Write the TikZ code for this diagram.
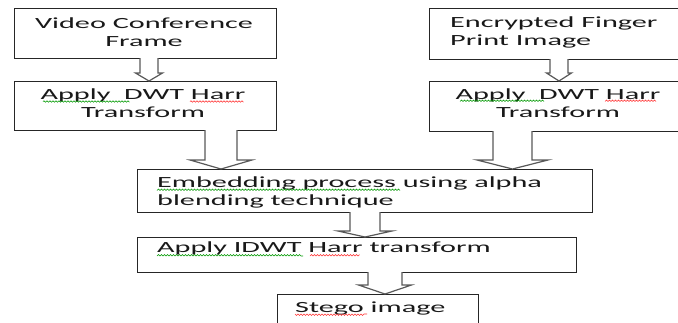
\documentclass[tikz,border=0pt]{standalone}
\usepackage{fontspec}
\setmainfont{Carlito}
\usetikzlibrary{calc,decorations.pathmorphing}
\newcommand{\wide}[1]{\scalebox{1.95}[1]{#1}}
\begin{document}
\begin{tikzpicture}[x=1pt, y=-1pt, line join=miter,
    box/.style 2 args={draw=black!85, line width=0.9pt, fill=white, minimum width=#1, minimum height=#2, inner sep=0pt, outer sep=0pt},
    txt/.style={inner sep=0pt, font=\fontsize{15.5}{18}\selectfont, text=black!90},
    blockarr/.style={draw=black!65, line width=1.2pt, fill=white},
    spell/.style={#1, line width=0.6pt, decorate, decoration={snake, amplitude=0.7pt, segment length=3pt}}]
    \useasboundingbox (0,0) rectangle (678,322);
    \clip (0,0) rectangle (678,322);
    \node[box={262}{50}] (vcf) at (145,33) {};
    \node[box={262}{49}] (dwtA) at (145,105.5) {};
    \node[box={258}{51}] (efp) at (558,33.5) {};
    \node[box={258}{50}] (dwtB) at (558,106) {};
    \node[box={455}{43}] (embed) at (364.5,190.5) {};
    \node[box={439}{35}] (idwt) at (356.5,254.5) {};
    \node[box={201}{44}] (stego) at (377.5,316) {};
    \foreach \s/\t/\x/\w/\h/\l in {vcf/dwtA/149/9/13.5/8, efp/dwtB/559/9/12.5/8, dwtA/embed/221/16/31/9, dwtB/embed/512.5/19.5/35.5/9, embed/idwt/365/15/27/6, idwt/stego/385/17/26.5/9}{
        \path (\x,0) coordinate (m);
        \draw[blockarr] ($(m |- \s.south)+(-\w,0)$) -- ($(m |- \t.north)+(-\w,-\l)$) -- ($(m |- \t.north)+(-\h,-\l)$) -- (m |- \t.north)
            -- ($(m |- \t.north)+(\h,-\l)$) -- ($(m |- \t.north)+(\w,-\l)$) -- ($(m |- \s.south)+(\w,0)$);
    }
    \node[txt, align=center, anchor=base] (vcf-t) at (144,46) {\wide{Video Conference}\\\wide{Frame}};
    \node[txt, align=center, anchor=base] (dwtA-t) at (143,117) {\wide{Apply\ \ DWT Harr}\\\wide{Transform}};
    \node[txt, align=left, anchor=base west] (efp-t) at (450,45) {\wide{Encrypted Finger}\\\wide{Print Image}};
    \node[txt, align=center, anchor=base] (dwtB-t) at (558,117) {\wide{Apply\ \ DWT Harr}\\\wide{Transform}};
    \node[txt, align=left, anchor=base west] (embed-t) at (157,205) {\wide{Embedding\ process\ using\ alpha}\\\wide{blending\ technique}};
    \node[txt, anchor=base west] (idwt-t) at (157,252) {\wide{Apply IDWT Harr transform}};
    \node[txt, anchor=base west] (stego-t) at (295,312) {\wide{Stego image}};
    \draw[spell=green!60!black] (43,101.5) -- (128,101.5) (460,101.5) -- (545,101.5) (157,190.5) -- (400,190.5) (157,256) -- (303,256);
    \draw[spell=red!80] (190,101.5) -- (242,101.5) (605,101.5) -- (656,101.5) (310,256) -- (360,256) (295,314) -- (367,314);
\end{tikzpicture}
\end{document}
